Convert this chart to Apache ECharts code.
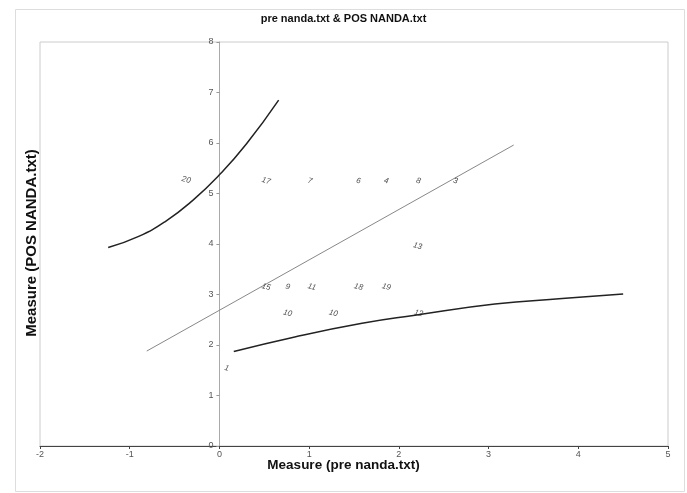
<!DOCTYPE html>
<html>
<head>
<meta charset="utf-8">
<script src="https://cdn.jsdelivr.net/npm/echarts@6/dist/echarts.min.js"></script>
<style>html,body{margin:0;padding:0;background:#fff;}#c{width:687px;height:493px;}</style>
</head>
<body>
<div id="c"></div>
<script>
const pointLabels = ['20','17','7','6','4','8','3','13','15','9','11','18','19','10','10','12','1'];
const preMeasure  = [-0.37,0.52,1.01,1.55,1.86,2.22,2.63,2.21,0.52,0.76,1.03,1.55,1.86,0.76,1.27,2.22,0.08];
const posMeasure  = [5.27,5.25,5.25,5.25,5.25,5.25,5.25,3.96,3.15,3.15,3.15,3.15,3.15,2.63,2.63,2.63,1.54];

const identityX = [-0.81, 3.28];
const identityY = [1.88, 5.96];

const upperX = [-1.24,-0.9,-0.6,-0.3,0,0.3,0.66];
const upperY = [3.93,4.15,4.45,4.86,5.37,5.98,6.85];

const lowerX = [0.16,0.84,1.59,2.18,3.07,3.82,4.50];
const lowerY = [1.87,2.16,2.43,2.59,2.81,2.92,3.01];

const xTickMin = -2, xTickMax = 5, yTickMin = 0, yTickMax = 8;

const zip = (a, b) => a.map((v, i) => [v, b[i]]);
const gridLeft = 40, gridRight = 19, plotWidth = 687 - gridLeft - gridRight;
const chart = echarts.init(document.getElementById('c'));
chart.setOption({
  animation: false,
  backgroundColor: '#fff',
  title: {
    text: 'pre nanda.txt & POS NANDA.txt',
    left: 'center', top: 8,
    textStyle: {fontFamily: 'Liberation Sans', fontSize: 11, fontWeight: 'bold', color: '#111'}
  },
  graphic: [
    {type: 'rect', left: 13, top: 7, shape: {width: 669, height: 482}, style: {fill: 'none', stroke: '#ddd', lineWidth: 1}, silent: true, z: -1},
    {type: 'text', left: 'center', top: 458, style: {text: 'Measure (pre nanda.txt)', font: 'bold 13.5px "Liberation Sans"', fill: '#111'}},
    {type: 'text', x: 32, y: 243, rotation: Math.PI / 2, style: {text: 'Measure (POS NANDA.txt)', font: 'bold 15px "Liberation Sans"', fill: '#111', align: 'center', verticalAlign: 'middle'}}
  ],
  grid: {left: gridLeft, right: gridRight, top: 42, bottom: 47, show: true, borderColor: '#ccc', borderWidth: 1, backgroundColor: 'transparent'},
  xAxis: {
    type: 'value', min: xTickMin, max: xTickMax, interval: 1,
    axisLine: {onZero: false, lineStyle: {color: '#444', width: 1}},
    axisTick: {show: true, length: 3, lineStyle: {color: '#444'}},
    axisLabel: {color: '#555', fontSize: 9, fontFamily: 'Liberation Sans', margin: 4},
    splitLine: {show: false}
  },
  yAxis: {
    type: 'value', min: yTickMin, max: yTickMax, interval: 1,
    position: 'left',
    offset: -plotWidth * (0 - xTickMin) / (xTickMax - xTickMin),
    axisLine: {onZero: false, lineStyle: {color: '#aaa', width: 1}},
    axisTick: {show: true, length: 3, lineStyle: {color: '#999'}},
    axisLabel: {color: '#555', fontSize: 9, fontFamily: 'Liberation Sans', margin: 6},
    splitLine: {show: false}
  },
  series: [
    {type: 'line', data: zip(identityX, identityY), symbol: 'none', lineStyle: {color: '#888', width: 1}, z: 2},
    {type: 'line', data: zip(upperX, upperY), symbol: 'none', smooth: true, lineStyle: {color: '#222', width: 1.5}, z: 3},
    {type: 'line', data: zip(lowerX, lowerY), symbol: 'none', smooth: true, lineStyle: {color: '#222', width: 1.5}, z: 3},
    {
      type: 'scatter',
      data: preMeasure.map((x, i) => [x, posMeasure[i], pointLabels[i]]),
      symbolSize: 1,
      itemStyle: {color: 'rgba(0,0,0,0)'},
      label: {
        show: true, position: 'inside',
        formatter: p => p.value[2],
        fontSize: 8, fontStyle: 'italic', fontFamily: 'Liberation Sans', color: '#222', rotate: -15
      },
      z: 5
    }
  ]
});
</script>
</body>
</html>
